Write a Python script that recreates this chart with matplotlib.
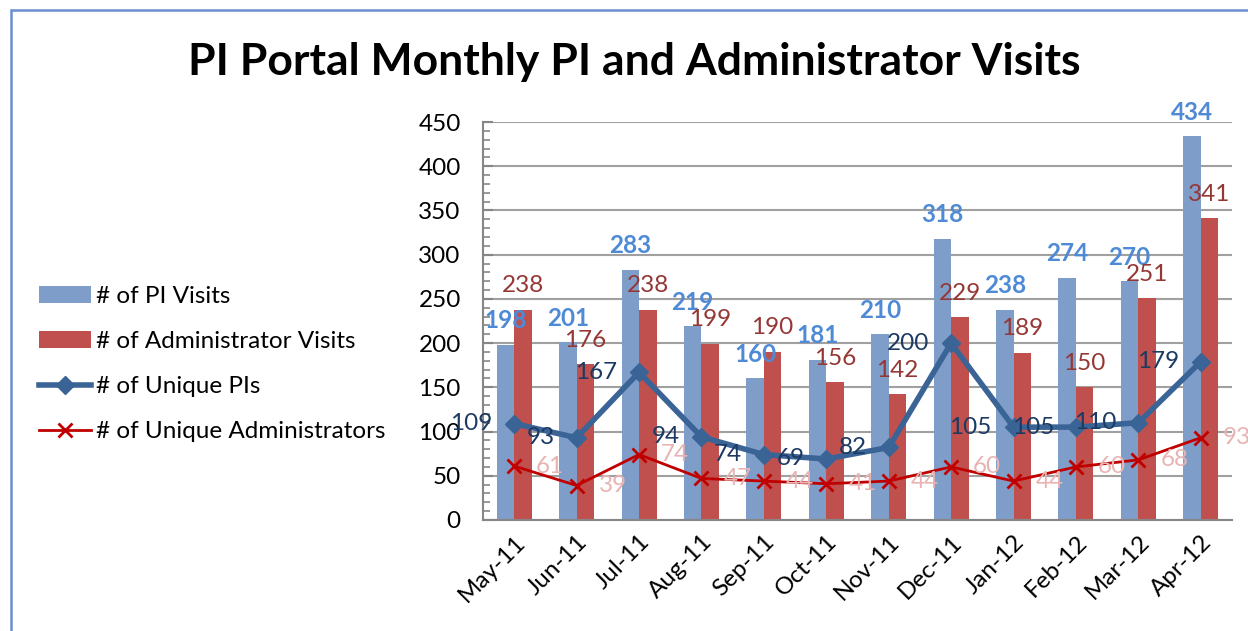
import numpy as np
import matplotlib.pyplot as plt
from matplotlib.patches import Rectangle

plt.rcParams['font.family'] = ['Lato', 'DejaVu Sans']

# Daten
months = ["May-11", "Jun-11", "Jul-11", "Aug-11", "Sep-11", "Oct-11",
          "Nov-11", "Dec-11", "Jan-12", "Feb-12", "Mar-12", "Apr-12"]
pi_visits = [198, 201, 283, 219, 160, 181, 210, 318, 238, 274, 270, 434]
admin_visits = [238, 176, 238, 199, 190, 156, 142, 229, 189, 150, 251, 341]
unique_pis = [109, 93, 167, 94, 74, 69, 82, 200, 105, 105, 110, 179]
unique_admins = [61, 39, 74, 47, 44, 41, 44, 60, 44, 60, 68, 93]

C_PI_BAR = "#7f9dc9"
C_ADM_BAR = "#c0504d"
C_PI_LINE = "#3b6496"
C_ADM_LINE = "#c00000"
FS = 17.5

fig = plt.figure(figsize=(12.48, 6.31), dpi=100)
ax = fig.add_axes([483 / 1248, 1 - 520 / 631, (1232 - 483) / 1248, (520 - 122) / 631])

x = np.arange(len(months))
w = 0.28
b1 = ax.bar(x - w / 2, pi_visits, w, color=C_PI_BAR, label="# of PI Visits", zorder=2)
b2 = ax.bar(x + w / 2, admin_visits, w, color=C_ADM_BAR, label="# of Administrator Visits", zorder=2)
l1, = ax.plot(x, unique_pis, color=C_PI_LINE, lw=4, marker="D", ms=9,
              label="# of Unique PIs", zorder=4)
l2, = ax.plot(x, unique_admins, color=C_ADM_LINE, lw=2, marker="x", ms=10, mew=2,
              label="# of Unique Administrators", zorder=4)

# Beschriftungen
for xi, v in zip(x, pi_visits):
    ax.annotate(str(v), (xi - w / 2, v), xytext=(0, 24), textcoords="offset pixels",
                ha="center", va="center", fontsize=FS, fontweight="bold",
                color="#4f8ad6", zorder=5)
for xi, v in zip(x, admin_visits):
    ax.annotate(str(v), (xi + w / 2, v), xytext=(0, 24), textcoords="offset pixels",
                ha="center", va="center", fontsize=FS, color="#953735", zorder=5)
for xi, v in zip(x, unique_pis):
    ax.annotate(str(v), (xi, v), xytext=(-22, 0), textcoords="offset pixels",
                ha="right", va="center", fontsize=FS, color="#1c3a63", zorder=5)
for xi, v in zip(x, unique_admins):
    ax.annotate(str(v), (xi, v), xytext=(22, 0), textcoords="offset pixels",
                ha="left", va="center", fontsize=FS, color="#e8b4b3", zorder=5)

ax.set_xlim(-0.5, len(months) - 0.5)
ax.set_ylim(0, 450)
ax.set_yticks(np.arange(0, 451, 50))
ax.set_yticks(np.arange(0, 451, 10), minor=True)
ax.set_xticks(x)
ax.set_xticklabels(months, rotation=45, ha="right", rotation_mode="anchor")
ax.tick_params(axis="x", length=0, labelsize=FS, pad=8)
ax.tick_params(axis="y", which="major", direction="in", length=7, width=1.5,
               color="#868686", labelsize=FS, pad=16)
ax.tick_params(axis="y", which="minor", direction="in", length=5, width=1.2, color="#868686")
ax.yaxis.grid(True, color="#a0a0a0", lw=1.5, zorder=0)
ax.set_axisbelow(True)
for s in ("top", "right"):
    ax.spines[s].set_visible(False)
for s in ("left", "bottom"):
    ax.spines[s].set_color("#868686")
    ax.spines[s].set_linewidth(1.5)

fig.text(0.508, 1 - 62 / 631, "PI Portal Monthly PI and Administrator Visits",
         ha="center", va="center", fontsize=32, fontweight="bold")

fig.legend(handles=[b1, b2, l1, l2], loc="center left",
           bbox_to_anchor=(27 / 1248, 1 - 364 / 631), frameon=False, fontsize=FS,
           handlelength=2.15, handletextpad=0.2, labelspacing=1.0, borderpad=0)

# Rahmen
fig.patches.append(Rectangle((11 / 1248, -0.1), 1.2, 1.1 - 10 / 631, transform=fig.transFigure,
                             fill=False, edgecolor="#6a8fcf", lw=1.8))

fig.savefig("out.png", dpi=100)
